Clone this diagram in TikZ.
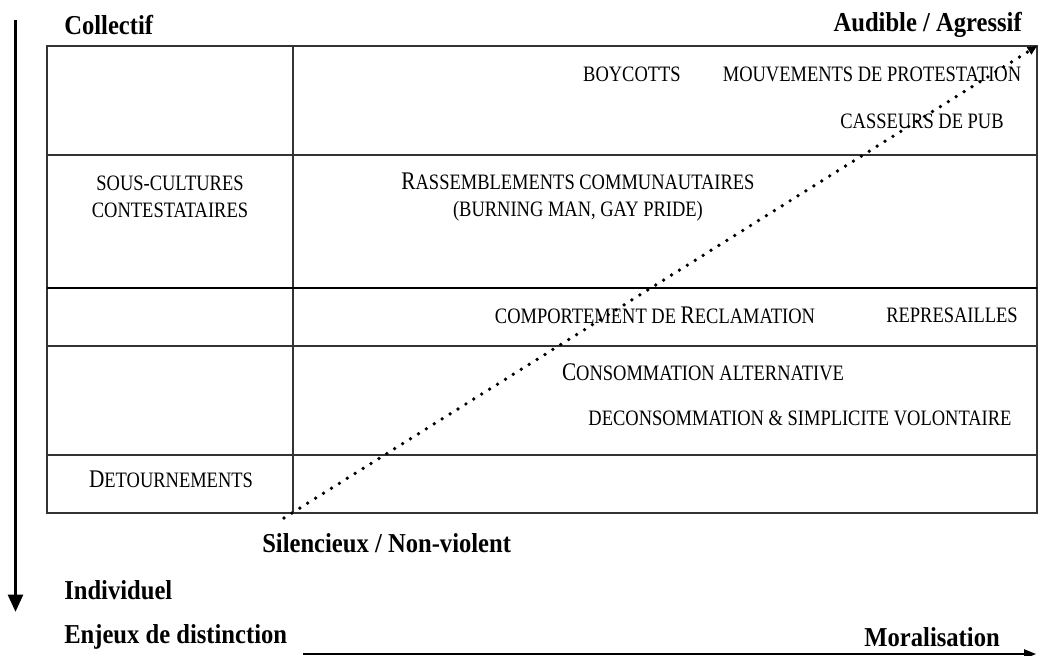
\documentclass[tikz,border=0pt]{standalone}
\usepackage{fontspec}
\setmainfont{Liberation Serif}
\newfontfamily\cellfont[FakeStretch=0.84]{Liberation Serif}
\newfontfamily\labfont[FakeStretch=0.9]{Liberation Serif}
\usetikzlibrary{arrows.meta}
\newcommand\smc{\cellfont\fontsize{16.5}{18}\selectfont}
\newcommand\bigc{\fontsize{19}{20}\selectfont}
\tikzset{
  axislabel/.style={font=\labfont\fontsize{20.5}{22}\selectfont\bfseries, inner sep=0pt},
  celltext/.style={font=\smc, inner sep=0pt, align=center},
  gridline/.style={line width=1.1pt, draw=black!80},
  thickgrid/.style={line width=2pt, draw=black},
}
\begin{document}
\begin{tikzpicture}[x=0.75pt,y=-0.75pt]
\useasboundingbox (0,0) rectangle (1040,656);
% grid
\draw[gridline] (47,46) rectangle (1037,513);
\draw[gridline] (293,46) -- (293,513);
\draw[gridline] (47,155) -- (1037,155);
\draw[thickgrid] (47,288) -- (1037,288);
\draw[gridline] (47,346) -- (1037,346);
\draw[gridline] (47,455) -- (1037,455);
% axis labels
\node[axislabel, anchor=west] (coll) at (64,25) {Collectif};
\node[axislabel, anchor=east] (aud) at (1022,25) {Audible / Agressif};
\node[axislabel, anchor=west] (sil) at (262,543) {Silencieux / Non-violent};
\node[axislabel, anchor=west] (ind) at (64,590) {Individuel};
\node[axislabel, anchor=west] (enj) at (64,637) {Enjeux de distinction};
\node[axislabel, anchor=east] (mor) at (1000,637) {Moralisation};
% cell texts
\node[celltext] (boy) at (632,74) {BOYCOTTS};
\node[celltext] (mouv) at (872,74) {MOUVEMENTS DE PROTESTATION};
\node[celltext] (cass) at (922,121) {CASSEURS DE PUB};
\node[celltext] (souscult) at (170,197) {SOUS-CULTURES\\[2pt]CONTESTATAIRES};
\node[celltext] (rass) at (578,197) {{\bigc R}ASSEMBLEMENTS COMMUNAUTAIRES\\[2pt](BURNING MAN, GAY PRIDE)};
\node[celltext] (comp) at (655,315) {COMPORTEMENT DE {\bigc R}ECLAMATION};
\node[celltext] (repr) at (952,315) {REPRESAILLES};
\node[celltext] (conso) at (703,372) {{\bigc C}ONSOMMATION ALTERNATIVE};
\node[celltext] (decon) at (800,418) {DECONSOMMATION \& SIMPLICITE VOLONTAIRE};
\node[celltext] (detour) at (171,479) {{\bigc D}ETOURNEMENTS};
% arrows
\coordinate (vtop) at (15.5,20);
\coordinate (vbot) at (15.5,612);
\draw[line width=2.6pt, -{Triangle[length=13pt,width=11pt]}] (vtop) -- (vbot);
\coordinate (htail) at (303,654);
\coordinate (hhead) at (1036,654);
\draw[line width=1pt, -{Triangle[length=9pt,width=7pt]}] (htail) -- (hhead);
\coordinate (dstart) at (284,518);
\coordinate (dend) at (1037,46);
\draw[line width=2.8pt, line cap=round, dash pattern=on 0pt off 7pt, -{Triangle[length=7pt,width=6pt]}] (dstart) -- (dend);
\end{tikzpicture}
\end{document}
